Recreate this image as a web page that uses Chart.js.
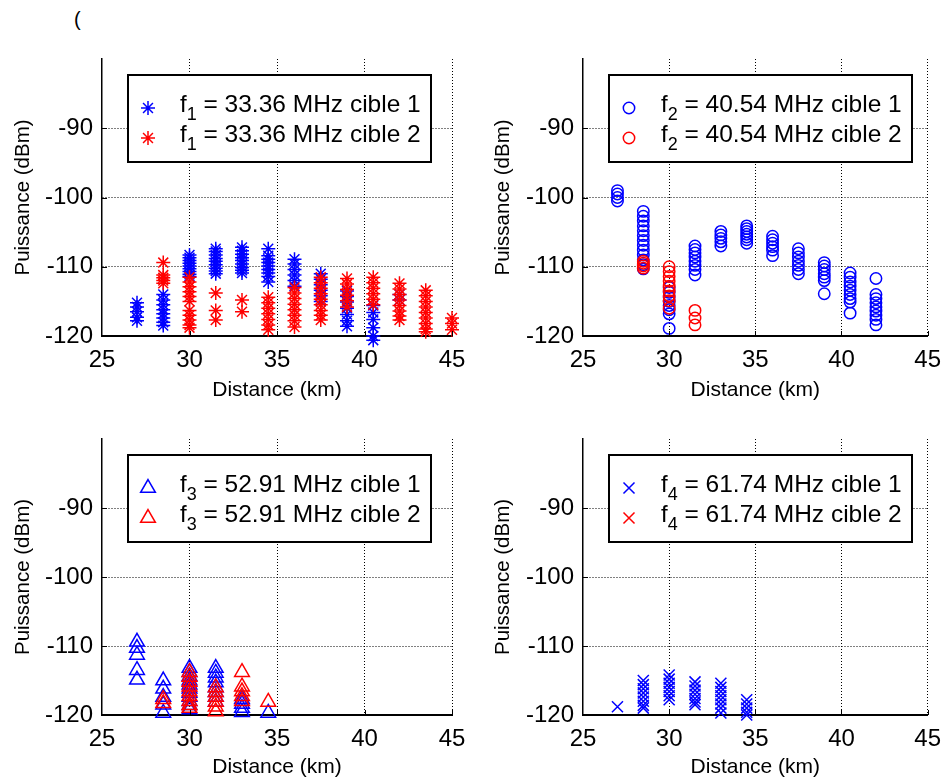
<!DOCTYPE html>
<html><head><meta charset="utf-8">
<script src="https://cdn.jsdelivr.net/npm/chart.js@4.4.0/dist/chart.umd.min.js"></script>
<style>
body{margin:0;background:#fff;width:951px;height:780px;overflow:hidden;position:relative;font-family:"Liberation Sans",Arial,sans-serif}
canvas{position:absolute}
#paren{position:absolute;left:74px;top:8px;font-size:20px;color:#000}
</style></head><body>
<div id="paren">(</div>
<canvas id="c1" width="476" height="410" style="left:0;top:0"></canvas>
<canvas id="c2" width="475" height="410" style="left:476px;top:0"></canvas>
<canvas id="c3" width="476" height="410" style="left:0;top:370px"></canvas>
<canvas id="c4" width="475" height="410" style="left:476px;top:370px"></canvas>
<script>
// ---------- DATA (cluster distances in km, powers in dBm) ----------
const xTicks = [25, 30, 35, 40, 45];
const yTicks = [-120, -110, -100, -90];

// f1 = 33.36 MHz
const f1Cible1Dist = [27, 28.5, 30, 31.5, 33, 34.5, 36, 37.5, 39, 40.5, 42];
const f1Cible1Pow = [
  [-115.2, -115.8, -116.5, -117.3, -117.8],
  [-114, -114.8, -115.5, -116.2, -116.8, -117.4, -118, -118.5],
  [-108.3, -108.7, -109.1, -109.5, -109.9, -110.3, -110.7, -111.1, -111.4],
  [-107.4, -107.8, -108.3, -108.8, -109.2, -109.7, -110.2, -110.6, -111],
  [-107.2, -107.7, -108.2, -108.7, -109.1, -109.6, -110.1, -110.5, -110.9],
  [-107.4, -108.4, -108.9, -109.4, -109.9, -110.4, -110.9, -111.4, -112.2],
  [-108.9, -109.6, -110.4, -111.2, -112, -112.8],
  [-111, -111.8, -112.6, -113.4, -114.2, -115],
  [-113.5, -114.3, -115.1, -116, -116.9, -117.8, -118.6],
  [-115.6, -116.6, -117.6, -118.8, -120, -120.6],
  [-114, -114.8]
];
const f1Cible2Dist = [28.5, 30, 31.5, 33, 34.5, 36, 37.5, 39, 40.5, 42, 43.5, 45];
const f1Cible2Pow = [
  [-109.4, -111.2, -111.6, -112, -112.4],
  [-111.5, -112.2, -112.9, -113.6, -114.3, -115, -116.3, -117, -117.7, -118.4, -118.8],
  [-113.8, -116.3, -117.7],
  [-114.8, -116.5],
  [-114.4, -115.2, -116, -116.8, -117.6, -118.4, -119.1],
  [-113, -113.8, -114.6, -115.4, -116.2, -117, -117.8, -118.7],
  [-111.5, -112.3, -113.1, -113.9, -114.7, -115.5, -116.3, -117, -117.7],
  [-111.7, -112.5, -113.3, -114.1, -114.9, -115.8],
  [-111.5, -112.3, -113.1, -113.9, -114.7, -115.5],
  [-112.4, -113.2, -114, -114.8, -115.6, -116.4, -117.1, -117.7],
  [-113.4, -114.2, -115, -115.8, -116.6, -117.4, -118.2, -119, -119.4],
  [-117.4, -118.2, -119.1]
];

// f2 = 40.54 MHz
const f2Cible1Dist = [27, 28.5, 30, 31.5, 33, 34.5, 36, 37.5, 39, 40.5, 42];
const f2Cible1Pow = [
  [-99, -99.5, -100, -100.5],
  [-102, -102.7, -103.4, -104.1, -104.8, -105.5, -106.2, -106.9, -107.6, -108.3, -109, -109.7, -110.3],
  [-113, -113.7, -114.4, -115, -115.6, -116.2, -116.8, -118.9],
  [-107, -107.5, -108, -108.6, -109.2, -109.8, -110.4, -111.2],
  [-104.9, -105.4, -105.9, -106.4, -107],
  [-104.1, -104.5, -104.9, -105.3, -105.7, -106.1, -106.6],
  [-105.6, -106.1, -106.6, -107.1, -107.6, -108.4],
  [-107.4, -108, -108.6, -109.2, -109.8, -110.4, -111],
  [-109.4, -109.9, -110.4, -111, -111.5, -112, -113.9],
  [-110.9, -111.5, -112.2, -112.8, -113.4, -114, -114.6, -115.1, -116.7],
  [-111.7, -114, -114.6, -115.2, -115.8, -116.4, -117, -117.6, -118.4]
];
const f2Cible2Dist = [28.5, 30, 31.5];
const f2Cible2Pow = [
  [-109.2, -109.5, -109.9, -110.2],
  [-110, -110.7, -111.4, -112.1, -112.8, -113.5, -114.2, -114.9, -116],
  [-116.3, -117.4, -118.4]
];

// f3 = 52.91 MHz
const f3Cible1Dist = [27, 28.5, 30, 31.5, 33, 34.5];
const f3Cible1Pow = [
  [-109.4, -110.3, -111.3, -113.5, -114.9],
  [-115, -116.2, -117.4, -118.5, -119.7],
  [-113.2, -113.8, -114.4, -115, -115.6, -116.2, -116.8, -117.4, -118, -118.6, -119.2],
  [-113.2, -113.9, -114.6, -115.3, -116, -116.7, -117.4, -118.1],
  [-117.7, -118.4, -119, -119.6],
  [-119.7]
];
const f3Cible2Dist = [28.5, 30, 31.5, 33, 34.5];
const f3Cible2Pow = [
  [-117.7, -118.3],
  [-113.8, -114.5, -115.2, -115.9, -116.6, -117.3, -118, -118.6, -119],
  [-116, -116.7, -117.4, -118.1, -118.8, -119.5],
  [-113.8, -115.9, -116.6, -117.3, -118],
  [-118.1]
];

// f4 = 61.74 MHz
const f4Cible1Dist = [27, 28.5, 30, 31.5, 33, 34.5];
const f4Cible1Pow = [
  [-118.8],
  [-115, -115.6, -116.2, -116.8, -117.4, -118, -118.6, -119],
  [-114.2, -114.8, -115.4, -116, -116.6, -117.2, -117.8],
  [-115.2, -115.8, -116.4, -117, -117.6, -118.1, -118.5],
  [-115.4, -116, -116.6, -117.2, -117.8, -118.4, -119, -119.7],
  [-117.8, -118.4, -119, -119.6, -120]
];
const f4Cible2Dist = [];
const f4Cible2Pow = [];

const legendLabels = {
  f1: ['1', ' = 33.36 MHz cible 1', ' = 33.36 MHz cible 2'],
  f2: ['2', ' = 40.54 MHz cible 1', ' = 40.54 MHz cible 2'],
  f3: ['3', ' = 52.91 MHz cible 1', ' = 52.91 MHz cible 2'],
  f4: ['4', ' = 61.74 MHz cible 1', ' = 61.74 MHz cible 2']
};

// ---------- helpers ----------
const BLUE = '#0000ff', RED = '#ff0000';
const FONT = '"Liberation Sans", Arial, Helvetica, sans-serif';
const MARK_W = 1.5;
function toPoints(dists, pows) {
  const pts = [];
  dists.forEach((d, i) => pows[i].forEach(p => pts.push({x: d, y: p})));
  return pts;
}

function drawMarker(ctx, style, radius, x, y, color) {
  ctx.save();
  ctx.strokeStyle = color;
  ctx.fillStyle = 'rgba(0,0,0,0)';
  ctx.lineWidth = MARK_W;
  if (Chart.helpers && Chart.helpers.drawPoint) {
    Chart.helpers.drawPoint(ctx, {pointStyle: style, radius: radius, borderWidth: MARK_W, rotation: 0}, x, y);
  }
  ctx.restore();
}

const legendPlugin = {
  id: 'subLegend',
  afterDraw(chart, args, opts) {
    const ctx = chart.ctx, ca = chart.chartArea;
    const bx = ca.left + 26, by = ca.top + 16, bw = 303, bh = 87;
    ctx.save();
    ctx.fillStyle = '#fff';
    ctx.fillRect(bx, by, bw, bh);
    ctx.lineWidth = 2;
    ctx.strokeStyle = '#000';
    ctx.strokeRect(bx, by, bw, bh);
    const lab = opts.labels;
    const colors = [BLUE, RED];
    [0, 1].forEach(i => {
      const my = by + 33 + i * 30;
      drawMarker(ctx, opts.style, opts.radius, bx + 20, my, colors[i]);
      const base = by + 37 + i * 30;
      let tx = bx + 52;
      ctx.fillStyle = '#000';
      ctx.textBaseline = 'alphabetic';
      ctx.textAlign = 'left';
      ctx.font = '24px ' + FONT;
      ctx.fillText('f', tx, base);
      tx += ctx.measureText('f').width;
      ctx.font = '18px ' + FONT;
      ctx.fillText(lab[0], tx, base + 8);
      tx += ctx.measureText(lab[0]).width;
      ctx.font = '24.5px ' + FONT;
      ctx.fillText(lab[i + 1], tx, base);
    });
    ctx.restore();
  }
};

const tickMarkPlugin = {
  id: 'inTicks',
  afterDatasetsDraw(chart) {
    const ctx = chart.ctx, xs = chart.scales.x, ys = chart.scales.y, ca = chart.chartArea;
    ctx.save();
    ctx.strokeStyle = '#000';
    ctx.lineWidth = 1;
    ctx.setLineDash([]);
    xTicks.slice(1).forEach(v => {
      const px = Math.round(xs.getPixelForValue(v)) + 0.5;
      ctx.beginPath(); ctx.moveTo(px, ca.bottom); ctx.lineTo(px, ca.bottom - 5); ctx.stroke();
    });
    yTicks.slice(1).forEach(v => {
      const py = Math.round(ys.getPixelForValue(v)) + 0.5;
      ctx.beginPath(); ctx.moveTo(ca.left, py); ctx.lineTo(ca.left + 5, py); ctx.stroke();
    });
    ctx.restore();
  }
};

function makePanel(id, cfg) {
  const ds = [
    {label: 'cible 2', data: toPoints(cfg.d2, cfg.p2), borderColor: RED, order: 0},
    {label: 'cible 1', data: toPoints(cfg.d1, cfg.p1), borderColor: BLUE, order: 1}
  ].map(d => Object.assign(d, {
    pointStyle: cfg.style, pointRadius: cfg.radius, pointHoverRadius: cfg.radius,
    pointBorderWidth: MARK_W, backgroundColor: 'rgba(0,0,0,0)', showLine: false, clip: false
  }));
  new Chart(document.getElementById(id), {
    type: 'scatter',
    data: {datasets: ds},
    options: {
      responsive: false, animation: false, devicePixelRatio: 1,
      layout: {padding: {top: cfg.padTop, right: cfg.padRight, left: 0, bottom: 0}},
      plugins: {
        legend: {display: false}, tooltip: {enabled: false},
        subLegend: {labels: cfg.labels, style: cfg.style, radius: cfg.radius}
      },
      scales: {
        x: {
          type: 'linear', min: 25, max: 45,
          afterBuildTicks: s => { s.ticks = xTicks.map(v => ({value: v})); },
          afterFit: s => { s.height = cfg.xH; },
          ticks: {color: '#000', font: {family: FONT, size: 24}, padding: 10, maxRotation: 0},
          grid: {color: c => (c.tick && c.tick.value === 25) ? 'rgba(0,0,0,0)' : '#000', lineWidth: 1, drawTicks: false},
          border: {display: true, color: '#000', width: 2, dash: [1, 2]},
          title: {display: true, text: 'Distance (km)', color: '#000', font: {family: FONT, size: 21}, padding: {top: 0, bottom: cfg.xTitlePad}}
        },
        y: {
          type: 'linear', min: -120, max: -80,
          afterBuildTicks: s => { s.ticks = yTicks.map(v => ({value: v})); },
          afterFit: s => { s.width = cfg.yW; },
          ticks: {color: '#000', font: {family: FONT, size: 24}, padding: 9},
          grid: {color: c => (c.tick && c.tick.value === -120) ? 'rgba(0,0,0,0)' : '#000', lineWidth: 1, drawTicks: false},
          border: {display: true, color: '#000', width: 1.5, dash: [1, 2]},
          title: {display: true, text: 'Puissance (dBm)', color: '#000', font: {family: FONT, size: 20.5}, padding: {top: cfg.yTitlePad, bottom: 0}}
        }
      }
    },
    plugins: [legendPlugin, tickMarkPlugin]
  });
}

makePanel('c1', {d1: f1Cible1Dist, p1: f1Cible1Pow, d2: f1Cible2Dist, p2: f1Cible2Pow, style: 'star', radius: 7,
  labels: legendLabels.f1, padTop: 59, padRight: 24, yW: 102, xH: 74, xTitlePad: 7, yTitlePad: 11});
makePanel('c2', {d1: f2Cible1Dist, p1: f2Cible1Pow, d2: f2Cible2Dist, p2: f2Cible2Pow, style: 'circle', radius: 5.7,
  labels: legendLabels.f2, padTop: 59, padRight: 17, yW: 107, xH: 74, xTitlePad: 7, yTitlePad: 15});
makePanel('c3', {d1: f3Cible1Dist, p1: f3Cible1Pow, d2: f3Cible2Dist, p2: f3Cible2Pow, style: 'triangle', radius: 8.5,
  labels: legendLabels.f3, padTop: 69, padRight: 24, yW: 102, xH: 65, xTitlePad: 0, yTitlePad: 11});
makePanel('c4', {d1: f4Cible1Dist, p1: f4Cible1Pow, d2: f4Cible2Dist, p2: f4Cible2Pow, style: 'crossRot', radius: 7.8,
  labels: legendLabels.f4, padTop: 69, padRight: 17, yW: 107, xH: 65, xTitlePad: 0, yTitlePad: 15});
</script>
</body></html>
